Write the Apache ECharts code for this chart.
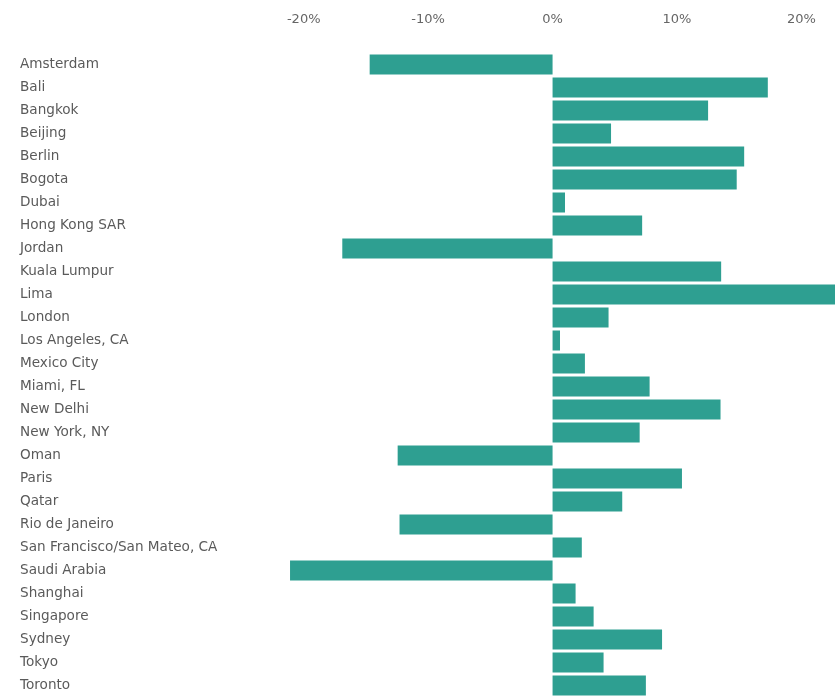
<!DOCTYPE html>
<html>
<head>
<meta charset="utf-8">
<script src="https://cdn.jsdelivr.net/npm/echarts@6/dist/echarts.min.js"></script>
<style>html,body{margin:0;padding:0;background:#fff;overflow:hidden}#c{width:838px;height:697px}</style>
</head>
<body>
<div id="c"></div>
<script>
const categories = ["Amsterdam","Bali","Bangkok","Beijing","Berlin","Bogota","Dubai","Hong Kong SAR","Jordan","Kuala Lumpur","Lima","London","Los Angeles, CA","Mexico City","Miami, FL","New Delhi","New York, NY","Oman","Paris","Qatar","Rio de Janeiro","San Francisco/San Mateo, CA","Saudi Arabia","Shanghai","Singapore","Sydney","Tokyo","Toronto"];
const values = [-14.7,17.3,12.5,4.7,15.4,14.8,1.0,7.2,-16.9,13.55,24,4.5,0.6,2.6,7.8,13.5,7.0,-12.45,10.4,5.6,-12.3,2.35,-21.1,1.85,3.3,8.8,4.1,7.5];
const tickValues = [-20,-10,0,10,20];

const chart = echarts.init(document.getElementById('c'), null, {renderer:'canvas', width:838, height:697});
const FONT = 'DejaVu Sans';
chart.setOption({
  animation:false,
  backgroundColor:'#fff',
  grid:{left:179.3, width:658.7, top:53, height:645.4},
  xAxis:{
    type:'value', position:'top', min:-30, max:22.7, interval:10,
    axisLine:{show:false}, axisTick:{show:false}, splitLine:{show:false},
    axisLabel:{
      margin:27, color:'#666', fontFamily:FONT, fontSize:13,
      formatter:function(v){ return tickValues.indexOf(Math.round(v*1000)/1000) >= 0 ? v+'%' : ''; }
    }
  },
  yAxis:{
    type:'category', data:categories, inverse:true,
    axisLine:{show:false}, axisTick:{show:false}, splitLine:{show:false},
    axisLabel:{align:'left', margin:159.3, color:'#5a5a5a', fontFamily:FONT, fontSize:13.6, padding:[5,0,0,0]}
  },
  series:[{
    type:'bar', data:values, barCategoryGap:'13%',
    itemStyle:{color:'#2e9f91'}, clip:true
  }]
});
</script>
</body>
</html>
